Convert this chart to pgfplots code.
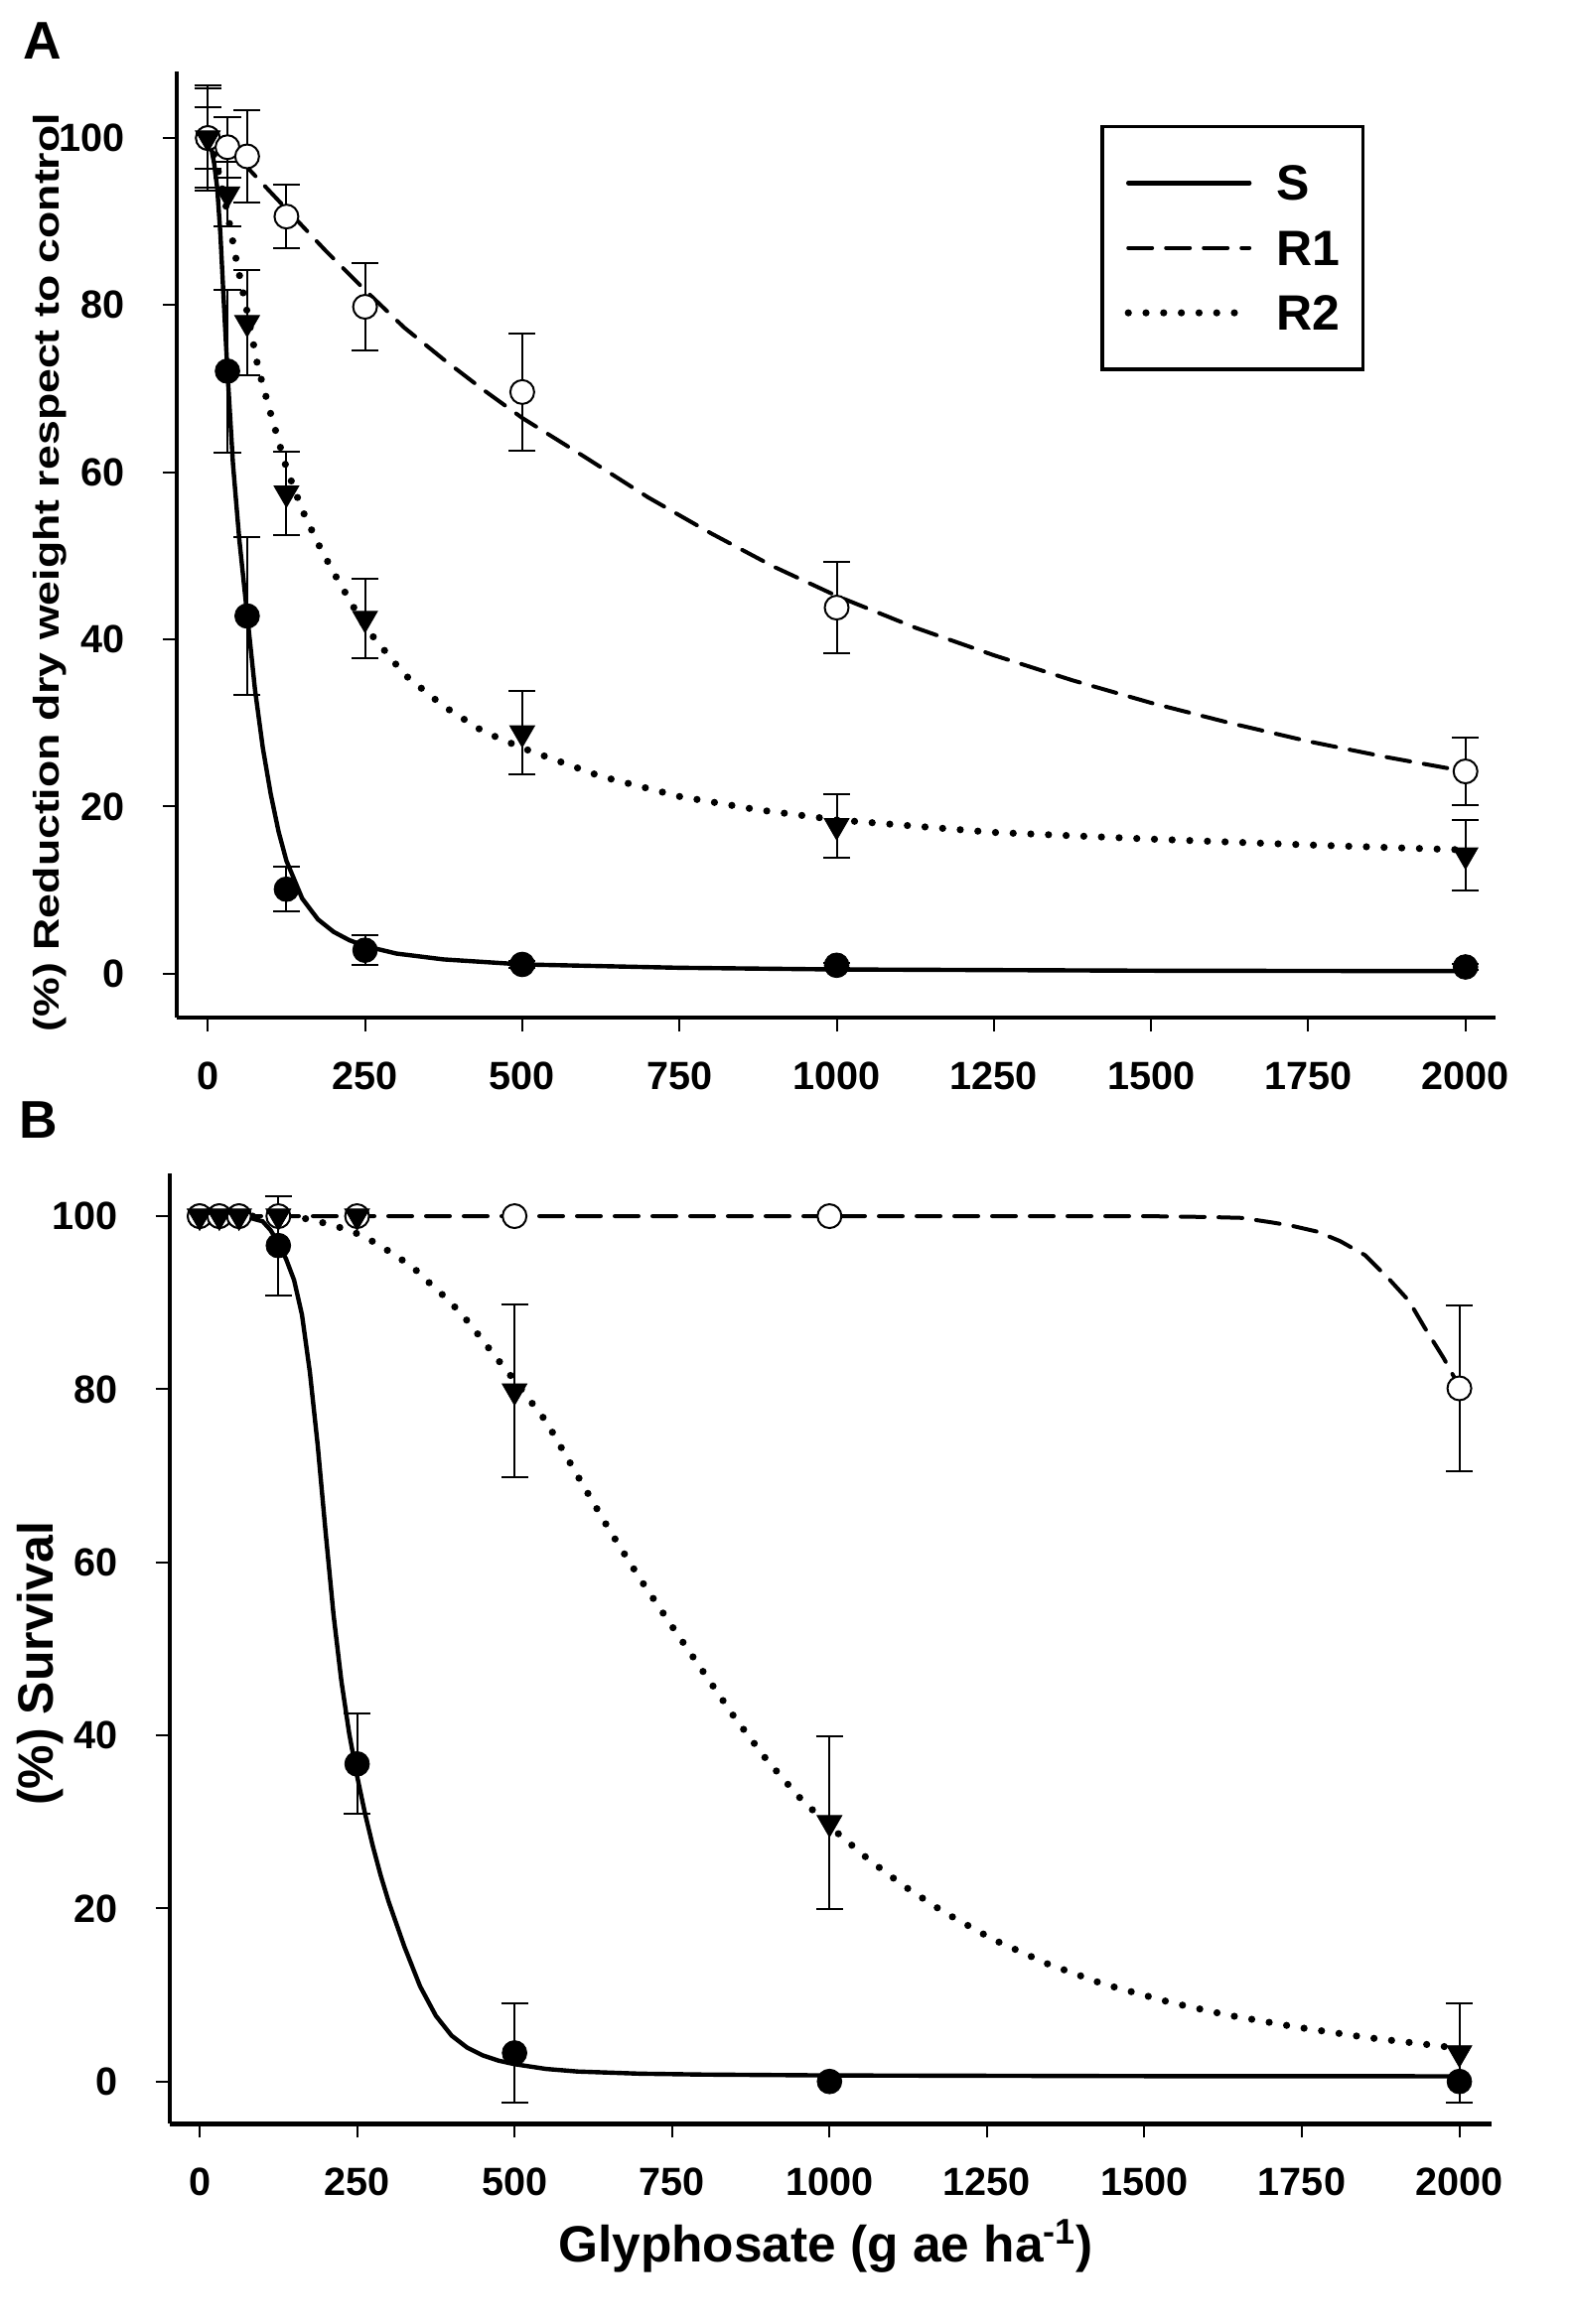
\documentclass[border=0pt]{standalone}
\usepackage{fontspec}
\setmainfont{Liberation Sans}
\usepackage{graphicx}
\usepackage{pgfplots}
\pgfplotsset{compat=1.18}

\tikzset{
  Sline/.style={line width=2.2pt, black, line cap=round},
  R1line/.style={line width=2pt, black, line cap=round, dash pattern=on 12pt off 7pt},
  R2line/.style={line width=3.6pt, black, line cap=round, dash pattern=on 0pt off 8.9pt},
}
\pgfplotsset{
  myaxis/.style={
    scale only axis,
    axis x line*=bottom, axis y line*=left,
    axis line style={-, line width=2.2pt, black},
    tick align=outside,
    major tick length=7pt,
    tick style={line width=1pt, black},
    xtick={0,250,...,2000},
    ytick={0,20,...,100},
    minor tick num=0,
    /pgf/number format/assume math mode=true,
    /pgf/number format/1000 sep={},
    ticklabel style={font=\fontsize{19.8}{22}\selectfont\bfseries},
    xticklabel style={anchor=north, inner sep=0pt, yshift=-15pt},
    yticklabel style={anchor=east, inner sep=0pt, xshift=-19pt},
    clip=false,
  },
  errbar/.style={only marks, mark=none, forget plot,
    error bars/.cd, y dir=both, y explicit,
    error bar style={line width=1pt, black, solid},
    error mark options={rotate=90, line width=1pt, mark size=6.8pt, black, solid}},
  Smark/.style={only marks, forget plot, mark=*, mark size=6.2pt, mark options={fill=black, draw=black, solid}},
  R1mark/.style={only marks, forget plot, mark=*, mark size=6pt, mark options={fill=white, draw=black, line width=1pt, solid}},
  R2mark/.style={only marks, forget plot, mark=triangle*, mark size=7.2pt, mark options={fill=black, draw=black, rotate=180, solid}},
}

\begin{document}
\begin{tikzpicture}
\path[use as bounding box] (0,0) rectangle (791.5pt,-1170.5pt);

% ---------------- Panel A ----------------
\begin{axis}[myaxis,
  at={(89pt,-512.5pt)}, anchor=south west,
  width=664pt, height=476.5pt,
  xmin=-49.4, xmax=2047.8, ymin=-5.26, ymax=107.96,
  ylabel={\scalebox{1.24}[1]{\fontsize{18}{21}\selectfont\bfseries (\%) Reduction dry weight respect to control}},
  ylabel style={at={(axis description cs:-0.0889,0.4706)}, anchor=base, inner sep=0pt},
  legend style={at={(0.7005,0.9437)}, anchor=north west, draw=black, line width=1.65pt, fill=white,
    inner xsep=11.35pt, inner ysep=12.15pt, row sep=0pt, column sep=12pt,
    font=\fontsize{25}{30}\selectfont\bfseries,
    nodes={inner sep=0pt, text height=25pt, text depth=7.7pt}},
  legend cell align=left,
  legend image code/.code={\draw[#1] (0pt,0pt) -- (61pt,0pt);},
]
% error bars
\addplot[errbar] coordinates {(0,100) +- (0,6.3) (31.25,72.1) +- (0,9.7) (62.5,42.8) +- (0,9.4) (125,10.1) +- (0,2.7) (250,2.8) +- (0,1.8) (500,1.1) +- (0,0.4) (1000,1.0) +- (0,0.3) (2000,0.8) +- (0,0.3)};
\addplot[errbar] coordinates {(0,100) +- (0,3.7) (31.25,98.9) +- (0,3.6) (62.5,97.8) +- (0,5.5) (125,90.6) +- (0,3.8) (250,79.8) +- (0,5.2) (500,69.6) +- (0,7.0) (1000,43.8) +- (0,5.5) (2000,24.2) +- (0,4.0)};
\addplot[errbar] coordinates {(0,100) +- (0,5.9) (31.25,93.3) +- (0,3.9) (62.5,77.9) +- (0,6.3) (125,57.5) +- (0,5.0) (250,42.5) +- (0,4.8) (500,28.8) +- (0,5.0) (1000,17.7) +- (0,3.8) (2000,14.2) +- (0,4.2)};
% marks
\addplot[Smark] coordinates {(0,100) (31.25,72.1) (62.5,42.8) (125,10.1) (250,2.8) (500,1.1) (1000,1.0) (2000,0.8)};
\addplot[R1mark] coordinates {(0,100) (31.25,98.9) (62.5,97.8) (125,90.6) (250,79.8) (500,69.6) (1000,43.8) (2000,24.2)};
\addplot[R2mark] coordinates {(0,100) (31.25,93.3) (62.5,77.9) (125,57.5) (250,42.5) (500,28.8) (1000,17.7) (2000,14.2)};
% fitted curves
\addplot[Sline, no marks, forget plot] coordinates {(0,100) (5,99) (10,97) (15,94) (20,88.5) (25,81) (31.25,72) (40,61) (50,52) (62.5,43) (75,34) (87.5,27) (100,21.5) (112.5,17) (125,13.5) (150,9) (175,6.5) (200,5) (225,4) (250,3.3) (300,2.4) (375,1.7) (500,1.1) (750,0.7) (1000,0.5) (1500,0.35) (2000,0.3)};
\addplot[R1line, no marks, forget plot] coordinates {(0,100) (31.25,98.7) (62.5,96.5) (100,93.5) (125,91.5) (187.5,86.5) (250,81.8) (312.5,77.3) (375,73.5) (437.5,69.9) (500,66.5) (600,61.8) (700,57.0) (800,52.7) (900,48.7) (1000,45.2) (1125,41.4) (1250,38.1) (1375,35.1) (1500,32.4) (1625,30.0) (1750,27.8) (1875,25.9) (2000,24.2)};
\addplot[R2line, no marks, forget plot] coordinates {(0,100) (10,98) (20,95) (31.25,91) (45,85.5) (62.5,79.2) (80,72.5) (100,67) (125,60.5) (150,55.5) (175,51.5) (200,48) (250,41.5) (312.5,35.8) (375,32) (437.5,29) (500,27) (625,23.6) (750,21.2) (875,19.6) (1000,18.4) (1250,16.9) (1500,16.1) (1750,15.4) (2000,14.8)};
% legend
\addlegendimage{Sline}
\addlegendentry{\makebox[32pt][l]{S}}
\addlegendimage{R1line}
\addlegendentry{\makebox[32pt][l]{R1}}
\addlegendimage{R2line}
\addlegendentry{\makebox[32pt][l]{R2}}
\node[anchor=base west, inner sep=0pt, font=\fontsize{26.7}{30}\selectfont\bfseries] at (axis description cs:-0.1169,1.0126) {A};
\end{axis}

% ---------------- Panel B ----------------
\begin{axis}[myaxis,
  at={(85.35pt,-1069.65pt)}, anchor=south west,
  width=665.8pt, height=478.8pt,
  xmin=-47.8, xmax=2051.6, ymin=-4.89, ymax=104.97,
  ylabel={\fontsize{25}{30}\selectfont\bfseries (\%) Survival},
  ylabel style={at={(axis description cs:-0.0882,0.4841)}, anchor=base, inner sep=0pt},
  xlabel={\fontsize{25.7}{30}\selectfont\bfseries Glyphosate (g ae ha\textsuperscript{-1})},
  xlabel style={at={(axis description cs:0.4962,-0.1454)}, anchor=base, inner sep=0pt},
]
\addplot[errbar] coordinates {(125,96.6) +- (0,5.75) (250,36.7) +- (0,5.8) (500,3.3) +- (0,5.7)};
\addplot[errbar] coordinates {(2000,80.1) +- (0,9.6)};
\addplot[errbar] coordinates {(500,79.8) +- (0,10) (1000,29.9) +- (0,10) (2000,3.3) +- (0,5.7)};
\addplot[Smark] coordinates {(0,100) (31.25,100) (62.5,100) (125,96.6) (250,36.7) (500,3.3) (1000,0) (2000,0)};
\addplot[R1mark] coordinates {(0,100) (31.25,100) (62.5,100) (125,100) (250,100) (500,100) (1000,100) (2000,80.1)};
\addplot[R2mark] coordinates {(0,100) (31.25,100) (62.5,100) (125,100) (250,100) (500,79.8) (1000,29.9) (2000,3.3)};
\addplot[Sline, no marks, forget plot] coordinates {(0,100) (50,100) (75,99.9) (100,99.4) (112.5,98.4) (125,96.9) (137.5,95.0) (150,92.6) (162.5,88.6) (175,82) (187.5,73.5) (200,63.5) (212.5,54) (225,46.3) (237.5,40.2) (250,35.3) (262.5,31) (275,27.2) (287.5,23.8) (300,20.8) (325,15.6) (350,11.0) (375,7.6) (400,5.3) (425,3.9) (450,3.0) (475,2.4) (500,2.0) (550,1.45) (600,1.15) (700,0.9) (800,0.8) (1000,0.7) (1500,0.62) (2000,0.6)};
\addplot[R1line, no marks, forget plot] coordinates {(0,100) (250,100) (500,100) (1000,100) (1250,100) (1500,100) (1600,99.9) (1654,99.8) (1700,99.3) (1733,98.9) (1775,98.2) (1811,97.1) (1850,95.5) (1890,92.6) (1920,90.2) (1945,87.1) (1975,83.6) (2000,80.3)};
\addplot[R2line, no marks, forget plot] coordinates {(0,100) (125,100) (150,99.9) (169,99.7) (198,99.2) (227,98.6) (253,97.9) (282,96.8) (310,95.5) (338.5,94.1) (366,92.2) (395,90.3) (420.5,88.3) (443.5,86.2) (466,84.1) (500,81) (550,76.3) (600,70) (650,63.8) (700,58) (750,52.6) (800,47.3) (850,42) (900,37.2) (950,33) (1000,29.5) (1063,25.6) (1118,22.6) (1181,19.6) (1260,16.4) (1346,13.6) (1433,11.3) (1543,9.1) (1630,7.7) (1740,6.3) (1851,5.1) (1969,4.1) (2000,3.8)};
\node[anchor=base west, inner sep=0pt, font=\fontsize{26.7}{30}\selectfont\bfseries] at (axis description cs:-0.1139,1.0366) {B};
\end{axis}
\end{tikzpicture}
\end{document}
